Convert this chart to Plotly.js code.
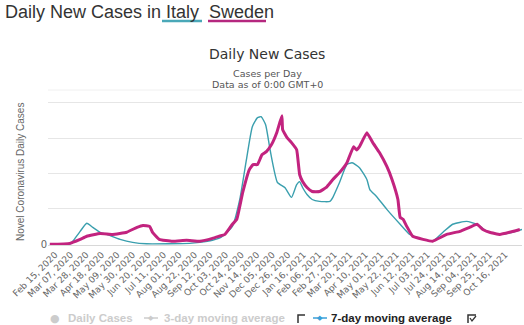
<!DOCTYPE html>
<html>
<head>
<meta charset="utf-8">
<script src="https://cdn.plot.ly/plotly-3.0.1.min.js"></script>
<style>html,body{margin:0;padding:0;background:#fff;}#chart{width:524px;height:325px;}</style>
</head>
<body>
<div id="chart"></div>
<script>
// ---- data (unit-less daily cases scale) ----
const italyDates = ['2020-02-08','2020-03-06','2020-03-10','2020-03-20','2020-03-29','2020-04-06','2020-04-16','2020-04-25','2020-05-13','2020-05-30','2020-06-18','2020-08-15','2020-08-29','2020-09-15','2020-09-27','2020-10-12','2020-10-22','2020-10-31','2020-11-08','2020-11-15','2020-11-20','2020-11-26','2020-12-02','2020-12-12','2020-12-22','2020-12-31','2021-01-07','2021-01-11','2021-01-15','2021-01-21','2021-01-28','2021-02-07','2021-02-21','2021-02-25','2021-03-06','2021-03-16','2021-03-23','2021-04-02','2021-04-12','2021-04-16','2021-04-25','2021-05-09','2021-05-27','2021-06-09','2021-06-27','2021-07-10','2021-07-24','2021-08-06','2021-08-25','2021-09-08','2021-09-21','2021-10-09','2021-10-26','2021-11-08'];
const italyValues = [0,0,13,55,89,72,51,42,21,8,2,4,8,17,30,76,190,359,499,537,541,507,401,262,241,199,253,266,241,211,190,182,182,199,262,338,346,325,275,232,203,148,85,42,21,13,51,85,97,85,55,42,51,63];

const swedenDates = ['2020-02-08','2020-03-06','2020-03-20','2020-03-29','2020-04-16','2020-05-03','2020-05-22','2020-06-05','2020-06-13','2020-06-22','2020-06-26','2020-07-05','2020-07-23','2020-08-11','2020-08-29','2020-09-15','2020-09-24','2020-10-02','2020-10-12','2020-10-18','2020-10-26','2020-11-04','2020-11-09','2020-11-15','2020-11-21','2020-11-27','2020-12-04','2020-12-11','2020-12-18','2020-12-19','2020-12-25','2020-12-31','2021-01-07','2021-01-11','2021-01-15','2021-01-21','2021-01-28','2021-02-07','2021-02-16','2021-02-25','2021-03-06','2021-03-16','2021-03-25','2021-03-29','2021-04-02','2021-04-12','2021-04-20','2021-04-29','2021-05-09','2021-05-16','2021-05-24','2021-05-27','2021-05-31','2021-06-05','2021-06-13','2021-06-27','2021-07-10','2021-07-29','2021-08-16','2021-08-29','2021-09-08','2021-09-16','2021-09-25','2021-10-09','2021-10-22','2021-11-05'];
const swedenValues = [0,4,21,34,46,42,51,72,80,76,51,21,13,17,13,25,34,42,85,106,220,317,338,338,380,393,423,473,545,486,452,431,401,296,266,241,224,224,241,275,304,346,414,400,414,473,431,389,330,275,190,114,106,76,34,21,13,42,55,72,85,63,51,42,51,63];

const tickDates = ['2020-02-15','2020-03-07','2020-03-28','2020-04-18','2020-05-09','2020-05-30','2020-06-20','2020-07-11','2020-08-01','2020-08-22','2020-09-12','2020-10-03','2020-10-24','2020-11-14','2020-12-05','2020-12-26','2021-01-16','2021-02-06','2021-02-27','2021-03-20','2021-04-10','2021-05-01','2021-05-22','2021-06-12','2021-07-03','2021-07-24','2021-08-14','2021-09-04','2021-09-25','2021-10-16'];
const tickLabels = ['Feb 15, 2020','Mar 07, 2020','Mar 28, 2020','Apr 18, 2020','May 09, 2020','May 30, 2020','Jun 20, 2020','Jul 11, 2020','Aug 01, 2020','Aug 22, 2020','Sep 12, 2020','Oct 03, 2020','Oct 24, 2020','Nov 14, 2020','Dec 05, 2020','Dec 26, 2020','Jan 16, 2021','Feb 06, 2021','Feb 27, 2021','Mar 20, 2021','Apr 10, 2021','May 01, 2021','May 22, 2021','Jun 12, 2021','Jul 03, 2021','Jul 24, 2021','Aug 14, 2021','Sep 04, 2021','Sep 25, 2021','Oct 16, 2021'];
const yGridVals = [0,150,300,450,600];
const yGridText = ['0','','','',''];

// ---- layout helpers (pixel -> paper) ----
const W = 524, H = 325, ML = 48, MR = 2, MT = 100, MB = 80;
const PW = W - ML - MR, PH = H - MT - MB;
const px = x => (x - ML) / PW;
const py = y => (H - MB - y) / PH;

const TEAL = '#3a9fae', MAG = '#c2237f';

const traces = [
  {x: italyDates, y: italyValues, type: 'scatter', mode: 'lines', line: {color: TEAL, width: 1.4, shape: 'spline', smoothing: 0.5}, hoverinfo: 'skip'},
  {x: swedenDates, y: swedenValues, type: 'scatter', mode: 'lines', line: {color: MAG, width: 3, shape: 'spline', smoothing: 0.3}, hoverinfo: 'skip'}
];

const ann = (x, y, text, o) => Object.assign({xref: 'paper', yref: 'paper', x: px(x), y: py(y), text: text, showarrow: false, xanchor: 'left', yanchor: 'middle'}, o || {});
const gray = '#cccccc';
const legFont = {family: 'Liberation Sans, Arial, sans-serif', size: 11.5, color: gray, weight: 'bold'};

const layout = {
  width: W, height: H,
  margin: {l: ML, r: MR, t: MT, b: MB, pad: 0},
  paper_bgcolor: '#fff', plot_bgcolor: '#fff',
  showlegend: false,
  xaxis: {
    type: 'date', range: ['2020-02-05 12:00', '2021-11-07 22:00'],
    tickvals: tickDates, ticktext: tickLabels, tickangle: -45,
    tickfont: {family: 'DejaVu Sans, sans-serif', size: 9, color: '#666'},
    showgrid: false, showline: true, linecolor: '#d8d8d8', linewidth: 1, ticks: '', zeroline: false, fixedrange: true
  },
  yaxis: {
    range: [-3, 612], tickvals: yGridVals, ticktext: yGridText,
    tickfont: {family: 'DejaVu Sans, sans-serif', size: 10, color: '#666'},
    showgrid: true, gridcolor: '#e6e6e6', gridwidth: 1, zeroline: false, showline: false, ticks: '', fixedrange: true
  },
  annotations: [
    ann(3, 12, 'Daily New Cases in Italy  Sweden', {font: {family: 'Liberation Sans, Arial, sans-serif', size: 18, color: '#333'}}),
    ann(267, 54, 'Daily New Cases', {xanchor: 'center', font: {family: 'DejaVu Sans, sans-serif', size: 14, color: '#333'}}),
    ann(267, 73, 'Cases per Day', {xanchor: 'center', font: {family: 'DejaVu Sans, sans-serif', size: 9.5, color: '#555'}}),
    ann(267, 84, 'Data as of 0:00 GMT+0', {xanchor: 'center', font: {family: 'DejaVu Sans, sans-serif', size: 9.5, color: '#555'}}),
    ann(20, 172, 'Novel Coronavirus Daily Cases', {xanchor: 'center', textangle: -90, font: {family: 'Liberation Sans, Arial, sans-serif', size: 10, color: '#666'}}),
    ann(55, 318, '●', {xanchor: 'center', font: {family: 'DejaVu Sans, sans-serif', size: 11, color: gray}}),
    ann(66, 318, 'Daily Cases', {font: legFont}),
    ann(162, 318, '3-day moving average', {font: legFont}),
    ann(329, 318, '7-day moving average', {font: Object.assign({}, legFont, {color: '#222'})}),
    ann(151, 318, '◆', {xanchor: 'center', font: {family: 'DejaVu Sans, sans-serif', size: 7, color: gray}}),
    ann(320, 318, '◆', {xanchor: 'center', font: {family: 'DejaVu Sans, sans-serif', size: 7, color: '#3a9fd8'}})
  ],
  shapes: [
    {type: 'line', xref: 'paper', yref: 'paper', x0: px(162), x1: px(202), y0: py(21), y1: py(21), line: {color: '#4aa8b8', width: 2.5}},
    {type: 'line', xref: 'paper', yref: 'paper', x0: px(208), x1: px(266), y0: py(21), y1: py(21), line: {color: '#b5287f', width: 2.5}},
    {type: 'line', xref: 'paper', yref: 'paper', x0: px(48), x1: px(522), y0: py(90), y1: py(90), line: {color: '#f0f0f0', width: 1}},
    {type: 'line', xref: 'paper', yref: 'paper', x0: px(144), x1: px(158), y0: py(318), y1: py(318), line: {color: gray, width: 1.5}},
    {type: 'line', xref: 'paper', yref: 'paper', x0: px(313), x1: px(327), y0: py(318), y1: py(318), line: {color: '#3a9fd8', width: 1.5}},
    {type: 'path', xref: 'paper', yref: 'paper', path: `M ${px(298)} ${py(323)} L ${px(298)} ${py(315)} L ${px(305)} ${py(315)}`, line: {color: '#333', width: 1.5}},
    {type: 'path', xref: 'paper', yref: 'paper', path: `M ${px(468)} ${py(323)} L ${px(468)} ${py(315)} L ${px(476)} ${py(315)}`, line: {color: '#333', width: 1.5}},
    {type: 'path', xref: 'paper', yref: 'paper', path: `M ${px(470)} ${py(318)} L ${px(472)} ${py(321)} L ${px(476)} ${py(316)}`, line: {color: '#333', width: 1.3}}
  ]
};

Plotly.newPlot('chart', traces, layout, {displayModeBar: false, staticPlot: true});
</script>
</body>
</html>
